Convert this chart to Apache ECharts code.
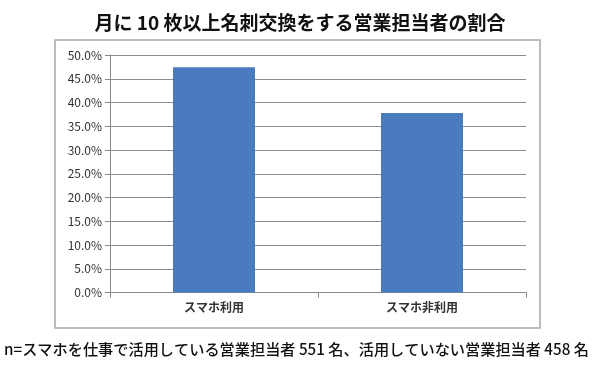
<!DOCTYPE html>
<html><head><meta charset="utf-8">
<script src="https://cdn.jsdelivr.net/npm/echarts@6/dist/echarts.min.js"></script>
<style>html,body{margin:0;padding:0;background:#fff}#c{width:600px;height:373px}</style>
</head><body><div id="c"></div>
<script>
const categories = ['スマホ利用', 'スマホ非利用'];
const values = [47.4, 37.8];
const titleText = '月に 10 枚以上名刺交換をする営業担当者の割合';
const footText = 'n=スマホを仕事で活用している営業担当者 551 名、活用していない営業担当者 458 名';
const FONT = '"Noto Sans CJK JP", "Noto Sans", sans-serif';

const chart = echarts.init(document.getElementById('c'), null, {renderer: 'canvas'});
chart.setOption({
  animation: false,
  backgroundColor: '#fff',
  title: {
    text: titleText, left: 'center', top: 8,
    textStyle: {fontFamily: FONT, fontSize: 19, fontWeight: 'bold', color: '#111'}
  },
  graphic: [
    {type: 'rect', shape: {x: 55, y: 40, width: 485, height: 288},
     style: {fill: 'none', stroke: '#a6a6a6', lineWidth: 1.5}, z: 0},
    {type: 'text', left: 4, top: 342,
     style: {text: footText, font: '500 15.2px ' + FONT, fill: '#111'}}
  ],
  grid: {left: 110, right: 74, top: 55, bottom: 80.5},
  xAxis: {
    type: 'category', data: categories,
    axisLine: {lineStyle: {color: '#888'}},
    axisTick: {show: true, length: 5, lineStyle: {color: '#888'}},
    axisLabel: {fontFamily: FONT, fontSize: 12, fontWeight: 'bold', color: '#333', margin: 9}
  },
  yAxis: {
    type: 'value', min: 0, max: 50, interval: 5,
    axisLine: {show: true, lineStyle: {color: '#888'}},
    axisTick: {show: true, length: 5, lineStyle: {color: '#888'}},
    splitLine: {lineStyle: {color: '#8c8c8c'}},
    axisLabel: {fontFamily: FONT, fontSize: 12, color: '#333', margin: 8,
      formatter: v => v.toFixed(1) + '%'}
  },
  series: [{
    type: 'bar', data: values, barWidth: 82,
    itemStyle: {color: '#4a7bbf'}
  }]
});
</script></body></html>
